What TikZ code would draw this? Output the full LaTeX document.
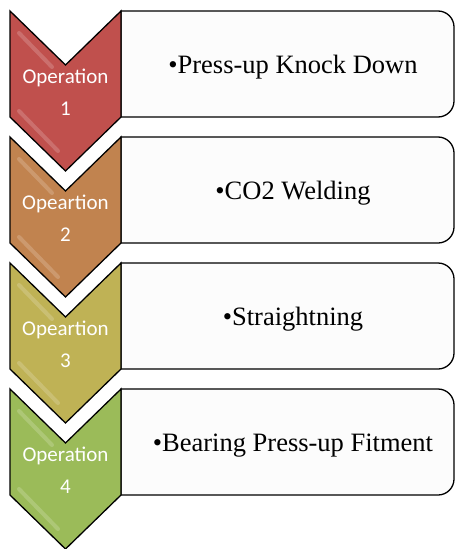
\documentclass[tikz,border=0pt]{standalone}
\usepackage{fontspec}
\setmainfont{Liberation Serif}
\newfontfamily\labelfont{Carlito}
\definecolor{opred}{HTML}{C0504D}
\definecolor{oporange}{HTML}{C1834F}
\definecolor{opolive}{HTML}{BFB255}
\definecolor{opgreen}{HTML}{9BBB59}
\definecolor{boxfill}{HTML}{FCFCFC}
\tikzset{
  chev/.style={draw=black, line width=1.3pt, line join=miter},
  steprect/.style={draw=black, line width=1.3pt, fill=boxfill},
  oplabel/.style={text=white, font=\labelfont\fontsize{21}{25}\selectfont, anchor=base, inner sep=0pt},
  itemtext/.style={font=\fontsize{26.5}{30}\selectfont, anchor=base, inner sep=0pt},
  gloss/.style={white, line width=4pt, opacity=0.18, line cap=round}
}
\begin{document}
\begin{tikzpicture}[x=1pt,y=-1pt]
\useasboundingbox (0,0) rectangle (456,549);
\foreach \i/\T/\col/\lab/\txt in {1/11/opred/Operation/Press-up Knock Down,
                                 2/137/oporange/Opeartion/CO2 Welding,
                                 3/263/opolive/Opeartion/Straightning,
                                 4/389/opgreen/Operation/Bearing Press-up Fitment}{
  \path[steprect] (121,\T) [rounded corners=16pt] -- (454,\T) -- (454,\T+106)
        [sharp corners] -- (121,\T+106) -- cycle;
  \path[chev, fill=\col] (10,\T) -- (65.5,\T+54) -- (121,\T) -- (121,\T+106)
        -- (65.5,\T+160) -- (10,\T+106) -- cycle;
  \draw[gloss] (19,\T+22) -- (52,\T+56);
  \draw[gloss] (19,\T+100) -- (58,\T+140);
  \node[oplabel] (opa\i) at (65.5,\T+72) {\lab};
  \node[oplabel] (opb\i) at (65.5,\T+104) {\i};
  \node[itemtext] (item\i) at (293,\T+62) {•\txt};
}
\end{tikzpicture}
\end{document}
